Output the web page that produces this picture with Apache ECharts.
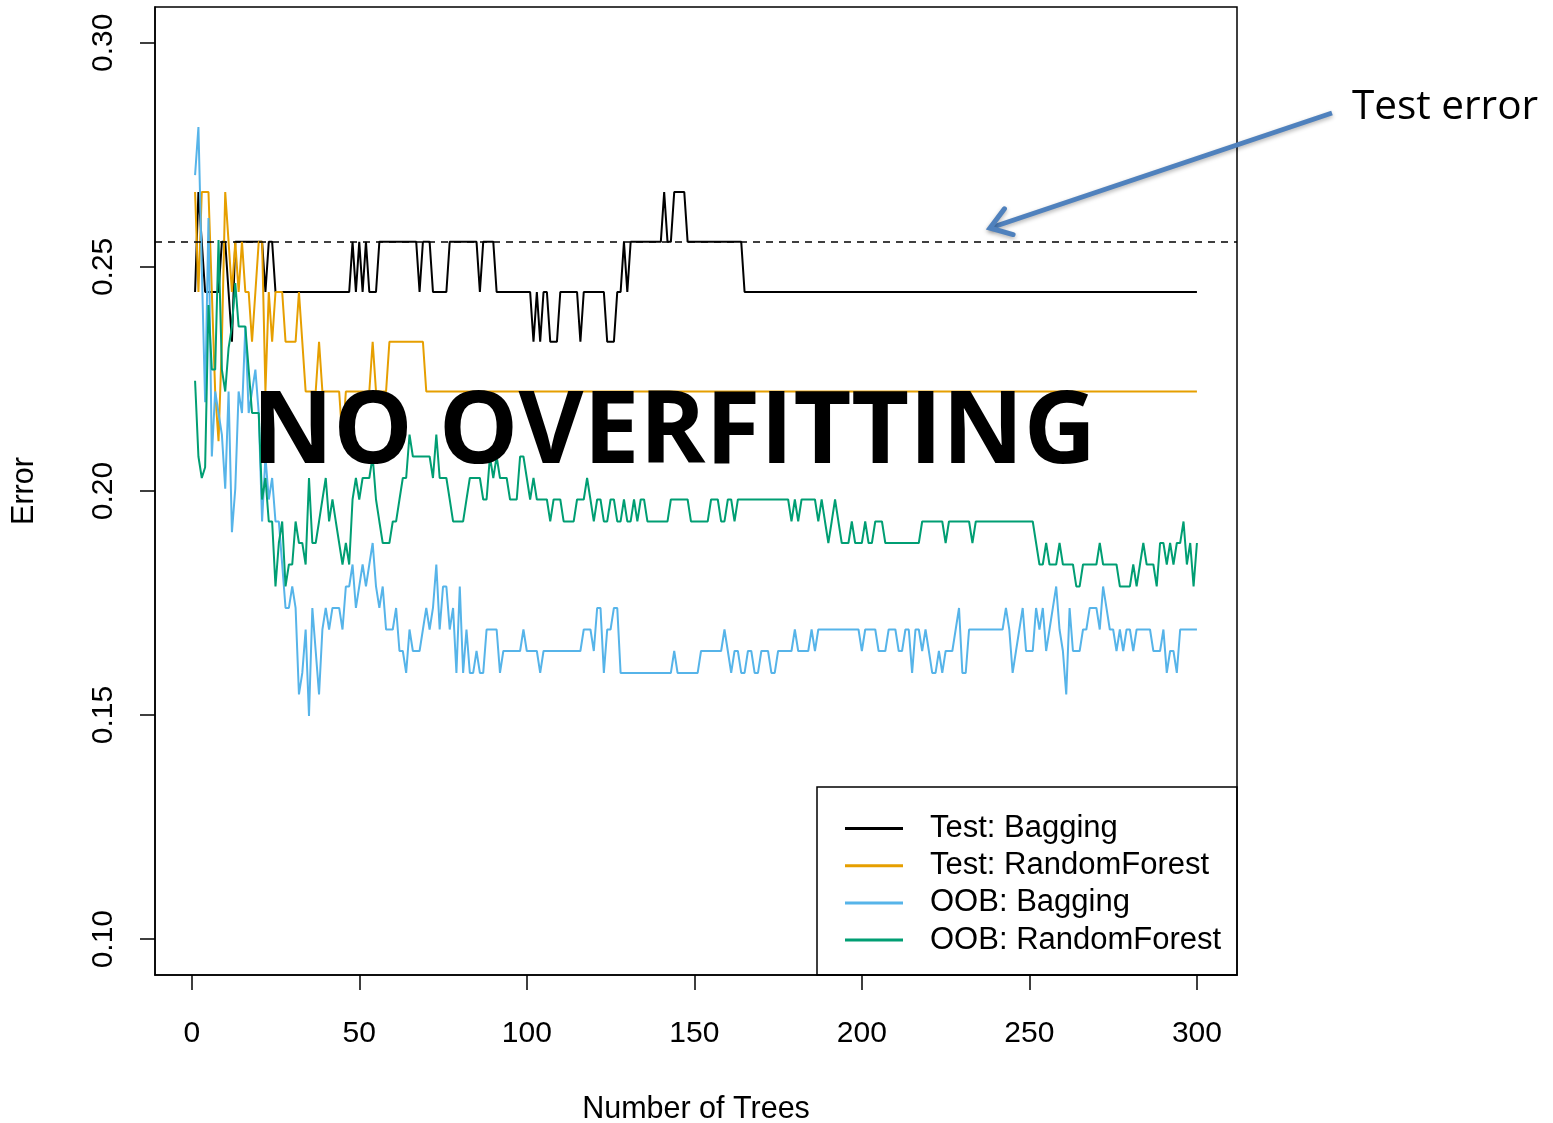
<!DOCTYPE html>
<html>
<head>
<meta charset="utf-8">
<title>Bagging vs RandomForest error</title>
<script src="https://cdn.jsdelivr.net/npm/echarts@6/dist/echarts.min.js"></script>
<style>
  html, body { margin: 0; padding: 0; background: #fff; }
  #chart { width: 1553px; height: 1123px; }
</style>
</head>
<body>
<div id="chart"></div>
<script>
// x: number of trees
const trees = Array.from({ length: 300 }, (_, i) => i + 1);

// test error, bagging
const testBagging = [
  0.2444,0.2667,0.2556,0.2444,0.2444,0.2444,0.2444,0.2444,0.2556,0.2556,
  0.2444,0.2333,0.2556,0.2556,0.2556,0.2556,0.2556,0.2556,0.2556,0.2556,
  0.2556,0.2444,0.2556,0.2556,0.2444,0.2444,0.2444,0.2444,0.2444,0.2444,
  0.2444,0.2444,0.2444,0.2444,0.2444,0.2444,0.2444,0.2444,0.2444,0.2444,
  0.2444,0.2444,0.2444,0.2444,0.2444,0.2444,0.2444,0.2556,0.2444,0.2556,
  0.2444,0.2556,0.2444,0.2444,0.2444,0.2556,0.2556,0.2556,0.2556,0.2556,
  0.2556,0.2556,0.2556,0.2556,0.2556,0.2556,0.2556,0.2444,0.2556,0.2556,
  0.2556,0.2444,0.2444,0.2444,0.2444,0.2444,0.2556,0.2556,0.2556,0.2556,
  0.2556,0.2556,0.2556,0.2556,0.2556,0.2444,0.2556,0.2556,0.2556,0.2556,
  0.2444,0.2444,0.2444,0.2444,0.2444,0.2444,0.2444,0.2444,0.2444,0.2444,
  0.2444,0.2333,0.2444,0.2333,0.2444,0.2444,0.2333,0.2333,0.2333,0.2444,
  0.2444,0.2444,0.2444,0.2444,0.2444,0.2333,0.2444,0.2444,0.2444,0.2444,
  0.2444,0.2444,0.2444,0.2333,0.2333,0.2333,0.2444,0.2444,0.2556,0.2444,
  0.2556,0.2556,0.2556,0.2556,0.2556,0.2556,0.2556,0.2556,0.2556,0.2556,
  0.2667,0.2556,0.2556,0.2667,0.2667,0.2667,0.2667,0.2556,0.2556,0.2556,
  0.2556,0.2556,0.2556,0.2556,0.2556,0.2556,0.2556,0.2556,0.2556,0.2556,
  0.2556,0.2556,0.2556,0.2556,0.2444,0.2444,0.2444,0.2444,0.2444,0.2444,
  0.2444,0.2444,0.2444,0.2444,0.2444,0.2444,0.2444,0.2444,0.2444,0.2444,
  0.2444,0.2444,0.2444,0.2444,0.2444,0.2444,0.2444,0.2444,0.2444,0.2444,
  0.2444,0.2444,0.2444,0.2444,0.2444,0.2444,0.2444,0.2444,0.2444,0.2444,
  0.2444,0.2444,0.2444,0.2444,0.2444,0.2444,0.2444,0.2444,0.2444,0.2444,
  0.2444,0.2444,0.2444,0.2444,0.2444,0.2444,0.2444,0.2444,0.2444,0.2444,
  0.2444,0.2444,0.2444,0.2444,0.2444,0.2444,0.2444,0.2444,0.2444,0.2444,
  0.2444,0.2444,0.2444,0.2444,0.2444,0.2444,0.2444,0.2444,0.2444,0.2444,
  0.2444,0.2444,0.2444,0.2444,0.2444,0.2444,0.2444,0.2444,0.2444,0.2444,
  0.2444,0.2444,0.2444,0.2444,0.2444,0.2444,0.2444,0.2444,0.2444,0.2444,
  0.2444,0.2444,0.2444,0.2444,0.2444,0.2444,0.2444,0.2444,0.2444,0.2444,
  0.2444,0.2444,0.2444,0.2444,0.2444,0.2444,0.2444,0.2444,0.2444,0.2444,
  0.2444,0.2444,0.2444,0.2444,0.2444,0.2444,0.2444,0.2444,0.2444,0.2444,
  0.2444,0.2444,0.2444,0.2444,0.2444,0.2444,0.2444,0.2444,0.2444,0.2444
];

// test error, random forest
const testRandomForest = [
  0.2667,0.2444,0.2667,0.2667,0.2667,0.2444,0.2222,0.2111,0.2333,0.2667,
  0.2556,0.2444,0.2556,0.2444,0.2556,0.2444,0.2444,0.2333,0.2444,0.2556,
  0.2556,0.2222,0.2444,0.2333,0.2444,0.2444,0.2444,0.2333,0.2333,0.2333,
  0.2333,0.2444,0.2333,0.2222,0.2222,0.2222,0.2222,0.2333,0.2222,0.2222,
  0.2222,0.2222,0.2222,0.2222,0.2111,0.2222,0.2222,0.2222,0.2222,0.2222,
  0.2222,0.2222,0.2222,0.2333,0.2222,0.2222,0.2222,0.2222,0.2333,0.2333,
  0.2333,0.2333,0.2333,0.2333,0.2333,0.2333,0.2333,0.2333,0.2333,0.2222,
  0.2222,0.2222,0.2222,0.2222,0.2222,0.2222,0.2222,0.2222,0.2222,0.2222,
  0.2222,0.2222,0.2222,0.2222,0.2222,0.2222,0.2222,0.2222,0.2222,0.2222,
  0.2222,0.2222,0.2222,0.2222,0.2222,0.2222,0.2222,0.2222,0.2222,0.2222,
  0.2222,0.2222,0.2222,0.2222,0.2222,0.2222,0.2222,0.2222,0.2222,0.2222,
  0.2222,0.2222,0.2222,0.2222,0.2222,0.2222,0.2222,0.2222,0.2222,0.2222,
  0.2222,0.2222,0.2222,0.2222,0.2222,0.2222,0.2222,0.2222,0.2222,0.2222,
  0.2222,0.2222,0.2222,0.2222,0.2222,0.2222,0.2222,0.2222,0.2222,0.2222,
  0.2222,0.2222,0.2222,0.2222,0.2222,0.2222,0.2222,0.2222,0.2222,0.2222,
  0.2222,0.2222,0.2222,0.2222,0.2222,0.2222,0.2222,0.2222,0.2222,0.2222,
  0.2222,0.2222,0.2222,0.2222,0.2222,0.2222,0.2222,0.2222,0.2222,0.2222,
  0.2222,0.2222,0.2222,0.2222,0.2222,0.2222,0.2222,0.2222,0.2222,0.2222,
  0.2222,0.2222,0.2222,0.2222,0.2222,0.2222,0.2222,0.2222,0.2222,0.2222,
  0.2222,0.2222,0.2222,0.2222,0.2222,0.2222,0.2222,0.2222,0.2222,0.2222,
  0.2222,0.2222,0.2222,0.2222,0.2222,0.2222,0.2222,0.2222,0.2222,0.2222,
  0.2222,0.2222,0.2222,0.2222,0.2222,0.2222,0.2222,0.2222,0.2222,0.2222,
  0.2222,0.2222,0.2222,0.2222,0.2222,0.2222,0.2222,0.2222,0.2222,0.2222,
  0.2222,0.2222,0.2222,0.2222,0.2222,0.2222,0.2222,0.2222,0.2222,0.2222,
  0.2222,0.2222,0.2222,0.2222,0.2222,0.2222,0.2222,0.2222,0.2222,0.2222,
  0.2222,0.2222,0.2222,0.2222,0.2222,0.2222,0.2222,0.2222,0.2222,0.2222,
  0.2222,0.2222,0.2222,0.2222,0.2222,0.2222,0.2222,0.2222,0.2222,0.2222,
  0.2222,0.2222,0.2222,0.2222,0.2222,0.2222,0.2222,0.2222,0.2222,0.2222,
  0.2222,0.2222,0.2222,0.2222,0.2222,0.2222,0.2222,0.2222,0.2222,0.2222,
  0.2222,0.2222,0.2222,0.2222,0.2222,0.2222,0.2222,0.2222,0.2222,0.2222
];

// out-of-bag error, bagging
const oobBagging = [
  0.2705,0.2812,0.2500,0.2198,0.2609,0.2077,0.2222,0.2174,0.2126,0.2005,
  0.2222,0.1908,0.2005,0.2222,0.2174,0.2367,0.2174,0.2222,0.2271,0.2174,
  0.1932,0.2077,0.1981,0.2029,0.1932,0.1932,0.1836,0.1739,0.1739,0.1787,
  0.1739,0.1546,0.1594,0.1691,0.1498,0.1739,0.1643,0.1546,0.1691,0.1739,
  0.1691,0.1739,0.1739,0.1739,0.1691,0.1787,0.1787,0.1836,0.1739,0.1787,
  0.1836,0.1787,0.1836,0.1884,0.1787,0.1739,0.1787,0.1691,0.1691,0.1691,
  0.1739,0.1643,0.1643,0.1594,0.1691,0.1643,0.1643,0.1643,0.1691,0.1739,
  0.1691,0.1739,0.1836,0.1691,0.1787,0.1787,0.1691,0.1739,0.1594,0.1787,
  0.1594,0.1691,0.1594,0.1594,0.1643,0.1594,0.1594,0.1691,0.1691,0.1691,
  0.1691,0.1594,0.1643,0.1643,0.1643,0.1643,0.1643,0.1643,0.1691,0.1643,
  0.1643,0.1643,0.1643,0.1594,0.1643,0.1643,0.1643,0.1643,0.1643,0.1643,
  0.1643,0.1643,0.1643,0.1643,0.1643,0.1643,0.1691,0.1691,0.1691,0.1643,
  0.1739,0.1739,0.1594,0.1691,0.1691,0.1739,0.1739,0.1594,0.1594,0.1594,
  0.1594,0.1594,0.1594,0.1594,0.1594,0.1594,0.1594,0.1594,0.1594,0.1594,
  0.1594,0.1594,0.1594,0.1643,0.1594,0.1594,0.1594,0.1594,0.1594,0.1594,
  0.1594,0.1643,0.1643,0.1643,0.1643,0.1643,0.1643,0.1643,0.1691,0.1643,
  0.1594,0.1643,0.1643,0.1594,0.1594,0.1643,0.1643,0.1594,0.1594,0.1643,
  0.1643,0.1643,0.1594,0.1594,0.1643,0.1643,0.1643,0.1643,0.1643,0.1691,
  0.1643,0.1643,0.1643,0.1643,0.1691,0.1643,0.1691,0.1691,0.1691,0.1691,
  0.1691,0.1691,0.1691,0.1691,0.1691,0.1691,0.1691,0.1691,0.1691,0.1643,
  0.1691,0.1691,0.1691,0.1691,0.1643,0.1643,0.1643,0.1691,0.1691,0.1691,
  0.1643,0.1643,0.1691,0.1691,0.1594,0.1691,0.1691,0.1643,0.1691,0.1643,
  0.1594,0.1594,0.1643,0.1594,0.1643,0.1643,0.1643,0.1691,0.1739,0.1594,
  0.1594,0.1691,0.1691,0.1691,0.1691,0.1691,0.1691,0.1691,0.1691,0.1691,
  0.1691,0.1691,0.1739,0.1691,0.1594,0.1643,0.1691,0.1739,0.1643,0.1643,
  0.1643,0.1739,0.1691,0.1739,0.1643,0.1691,0.1739,0.1787,0.1691,0.1643,
  0.1546,0.1739,0.1643,0.1643,0.1643,0.1691,0.1691,0.1739,0.1739,0.1739,
  0.1691,0.1787,0.1739,0.1691,0.1691,0.1643,0.1691,0.1643,0.1691,0.1691,
  0.1643,0.1691,0.1691,0.1691,0.1691,0.1691,0.1643,0.1643,0.1643,0.1691,
  0.1594,0.1643,0.1643,0.1594,0.1691,0.1691,0.1691,0.1691,0.1691,0.1691
];

// out-of-bag error, random forest
const oobRandomForest = [
  0.2246,0.2077,0.2029,0.2053,0.2415,0.2271,0.2271,0.2560,0.2271,0.2222,
  0.2319,0.2367,0.2464,0.2367,0.2367,0.2367,0.2271,0.2174,0.2174,0.2174,
  0.1981,0.2029,0.1932,0.1932,0.1787,0.1884,0.1932,0.1787,0.1836,0.1836,
  0.1932,0.1884,0.1884,0.1836,0.2029,0.1884,0.1884,0.1932,0.1981,0.2029,
  0.1932,0.1981,0.1932,0.1884,0.1836,0.1884,0.1836,0.1981,0.2029,0.1981,
  0.2029,0.2029,0.2029,0.2077,0.1981,0.1932,0.1884,0.1884,0.1884,0.1932,
  0.1932,0.1981,0.2029,0.2029,0.2126,0.2077,0.2077,0.2077,0.2077,0.2077,
  0.2077,0.2029,0.2126,0.2029,0.2029,0.2029,0.1981,0.1932,0.1932,0.1932,
  0.1932,0.1981,0.2029,0.2029,0.2029,0.2029,0.1981,0.1981,0.2077,0.2029,
  0.2077,0.2029,0.2029,0.2029,0.1981,0.1981,0.1981,0.2077,0.2077,0.2029,
  0.1981,0.2029,0.1981,0.1981,0.1981,0.1981,0.1932,0.1981,0.1981,0.1981,
  0.1932,0.1932,0.1932,0.1932,0.1981,0.1981,0.1981,0.2029,0.1981,0.1932,
  0.1981,0.1981,0.1932,0.1932,0.1981,0.1981,0.1932,0.1932,0.1981,0.1932,
  0.1932,0.1981,0.1932,0.1981,0.1981,0.1932,0.1932,0.1932,0.1932,0.1932,
  0.1932,0.1932,0.1981,0.1981,0.1981,0.1981,0.1981,0.1981,0.1932,0.1932,
  0.1932,0.1932,0.1932,0.1932,0.1981,0.1981,0.1981,0.1932,0.1932,0.1981,
  0.1981,0.1932,0.1981,0.1981,0.1981,0.1981,0.1981,0.1981,0.1981,0.1981,
  0.1981,0.1981,0.1981,0.1981,0.1981,0.1981,0.1981,0.1981,0.1932,0.1981,
  0.1932,0.1981,0.1981,0.1981,0.1981,0.1981,0.1932,0.1981,0.1932,0.1884,
  0.1932,0.1981,0.1932,0.1884,0.1884,0.1884,0.1932,0.1884,0.1884,0.1884,
  0.1932,0.1884,0.1884,0.1932,0.1932,0.1932,0.1884,0.1884,0.1884,0.1884,
  0.1884,0.1884,0.1884,0.1884,0.1884,0.1884,0.1884,0.1932,0.1932,0.1932,
  0.1932,0.1932,0.1932,0.1932,0.1884,0.1932,0.1932,0.1932,0.1932,0.1932,
  0.1932,0.1932,0.1884,0.1932,0.1932,0.1932,0.1932,0.1932,0.1932,0.1932,
  0.1932,0.1932,0.1932,0.1932,0.1932,0.1932,0.1932,0.1932,0.1932,0.1932,
  0.1932,0.1884,0.1836,0.1836,0.1884,0.1836,0.1836,0.1836,0.1884,0.1836,
  0.1836,0.1836,0.1836,0.1787,0.1787,0.1836,0.1836,0.1836,0.1836,0.1836,
  0.1884,0.1836,0.1836,0.1836,0.1836,0.1836,0.1787,0.1787,0.1787,0.1787,
  0.1836,0.1787,0.1836,0.1884,0.1836,0.1836,0.1836,0.1787,0.1884,0.1884,
  0.1836,0.1884,0.1836,0.1884,0.1884,0.1932,0.1836,0.1884,0.1787,0.1884
];

// dashed line: test error of a single tree
const singleTreeError = 0.2556;

const xTicks = [0, 50, 100, 150, 200, 250, 300];
const yTicks = [0.10, 0.15, 0.20, 0.25, 0.30];

const seriesNames = ['Test: Bagging', 'Test: RandomForest', 'OOB: Bagging', 'OOB: RandomForest'];
const seriesColors = ['#000000', '#E69F00', '#56B4E9', '#009E73'];
const seriesValues = [testBagging, testRandomForest, oobBagging, oobRandomForest];

const FONT = '"Liberation Sans", Arial, Helvetica, sans-serif';

const chart = echarts.init(document.getElementById('chart'));

let series = seriesValues.map((vals, k) => ({
    name: seriesNames[k],
    type: 'line',
    showSymbol: false,
    symbol: 'none',
    data: trees.map((t, i) => [t, vals[i]]),
    lineStyle: { color: seriesColors[k], width: 2 },
    itemStyle: { color: seriesColors[k] },
    z: 2 + k
}));

series[0].markLine = {
    silent: true,
    symbol: 'none',
    precision: 4,
    label: { show: false },
    lineStyle: { color: '#000', width: 1.5, type: [7, 6] },
    data: [{ yAxis: singleTreeError }]
};

// arrow pointing at the dashed line
const arrowFrom = [1332, 113], arrowTo = [990, 228];
const ang = Math.atan2(arrowFrom[1] - arrowTo[1], arrowFrom[0] - arrowTo[0]);
const headLen = 24, headSpread = 0.6;
const arm1 = [arrowTo[0] + headLen * Math.cos(ang + headSpread), arrowTo[1] + headLen * Math.sin(ang + headSpread)];
const arm2 = [arrowTo[0] + headLen * Math.cos(ang - headSpread), arrowTo[1] + headLen * Math.sin(ang - headSpread)];

const axisLineStyle = { color: '#000', width: 1.5 };

let option = {
    animation: false,
    backgroundColor: '#fff',
    grid: {
        left: 155, right: 316, top: 7, bottom: 148,
        outerBoundsMode: 'none',
        containLabel: false,
        show: true,
        borderColor: '#000',
        borderWidth: 1.5,
        backgroundColor: 'transparent'
    },
    xAxis: {
        type: 'value',
        min: -10.96,
        max: 311.96,
        name: 'Number of Trees',
        nameLocation: 'middle',
        nameGap: 119,
        nameTextStyle: { fontFamily: FONT, fontSize: 30.5, color: '#000' },
        axisLine: { show: true, onZero: false, lineStyle: axisLineStyle },
        axisTick: { show: true, length: 15, inside: false, customValues: xTicks, lineStyle: axisLineStyle },
        axisLabel: { customValues: xTicks, fontFamily: FONT, fontSize: 30, color: '#000', margin: 44 },
        splitLine: { show: false }
    },
    yAxis: {
        type: 'value',
        min: 0.092,
        max: 0.308,
        name: 'Error',
        nameLocation: 'middle',
        nameGap: 115,
        nameRotate: 90,
        nameTextStyle: { fontFamily: FONT, fontSize: 30.5, color: '#000' },
        axisLine: { show: true, onZero: false, lineStyle: axisLineStyle },
        axisTick: { show: true, length: 15, inside: false, customValues: yTicks, lineStyle: axisLineStyle },
        axisLabel: {
            customValues: yTicks,
            rotate: 90,
            fontFamily: FONT, fontSize: 30, color: '#000', margin: 36,
            formatter: (v) => v.toFixed(2)
        },
        splitLine: { show: false }
    },
    legend: {
        orient: 'vertical',
        left: 845,
        top: 813,
        padding: 0,
        icon: 'rect',
        itemWidth: 58,
        itemHeight: 3,
        itemGap: 6.2,
        selectedMode: false,
        textStyle: { fontFamily: FONT, fontSize: 31, color: '#000', lineHeight: 30, padding: [0, 0, 0, 22] },
        data: seriesNames
    },
    graphic: [
        {
            type: 'rect',
            shape: { x: 817, y: 787, width: 420, height: 188 },
            style: { fill: 'none', stroke: '#000', lineWidth: 1.5 },
            z: 5
        },
        {
            type: 'text',
            x: 674, y: 435,
            style: {
                text: 'NO OVERFITTING',
                fontFamily: '"Open Sans", sans-serif',
                fontWeight: 'bold',
                fontSize: 100,
                fill: '#000',
                align: 'center',
                verticalAlign: 'middle'
            },
            z: 100
        },
        {
            type: 'text',
            x: 1352, y: 107,
            style: {
                text: 'Test error',
                fontFamily: '"Open Sans", sans-serif',
                fontSize: 40.5,
                fill: '#000',
                align: 'left',
                verticalAlign: 'middle'
            },
            z: 100
        },
        {
            type: 'line',
            shape: { x1: arrowFrom[0], y1: arrowFrom[1], x2: arrowTo[0], y2: arrowTo[1] },
            style: { stroke: '#4F81BD', lineWidth: 5, lineCap: 'butt', shadowBlur: 4, shadowColor: 'rgba(0,0,0,0.3)', shadowOffsetY: 2 },
            z: 100
        },
        {
            type: 'polyline',
            shape: { points: [arm1, arrowTo, arm2] },
            style: { stroke: '#4F81BD', lineWidth: 5, fill: 'none', lineJoin: 'miter', lineCap: 'round', shadowBlur: 4, shadowColor: 'rgba(0,0,0,0.3)', shadowOffsetY: 2 },
            z: 100
        }
    ],
    series: series
};

chart.setOption(option);
</script>
</body>
</html>
